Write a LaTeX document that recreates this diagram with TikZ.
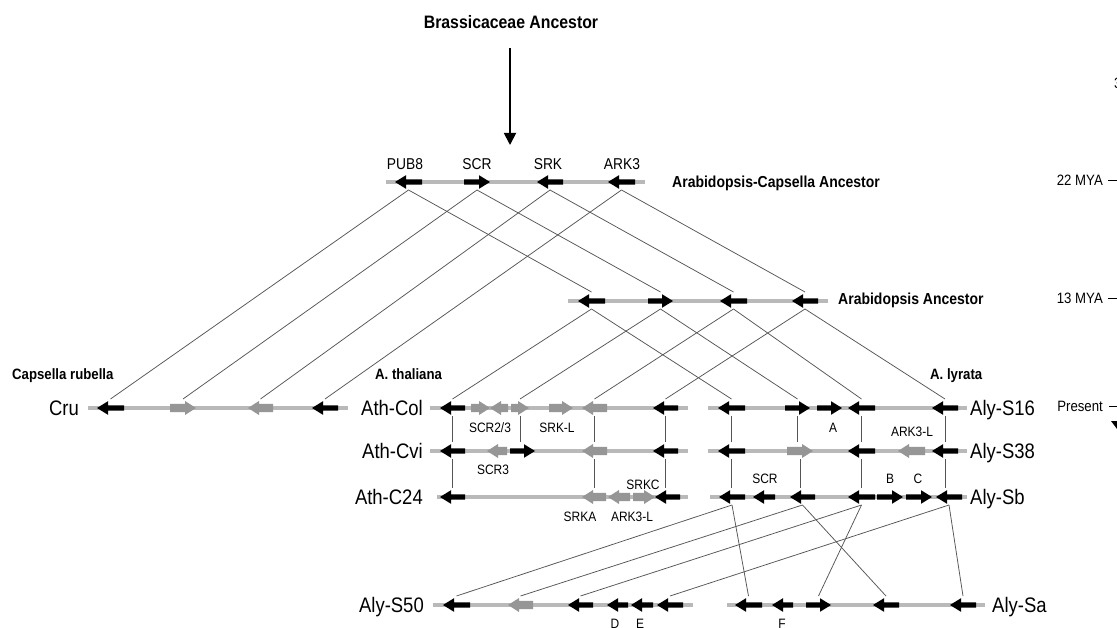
\documentclass[tikz,border=0pt]{standalone}
\usepackage{fontspec}
\setmainfont{Liberation Sans}[FakeStretch=0.88]
\usetikzlibrary{arrows.meta}
\definecolor{bbgray}{RGB}{185,185,185}
\definecolor{ggray}{RGB}{150,150,150}
\definecolor{cgray}{RGB}{85,85,85}
\newcommand\genearr[7]{%
  \pgfmathsetmacro\gah{#3>#2 ? #3-11 : #3+11}%
  \pgfmathsetmacro\gac{(#2+#3)/2}%
  \fill[#5] (#2,#4-#6) -- (\gah,#4-#6) -- (\gah,#4-#7) -- (#3,#4) -- (\gah,#4+#7) -- (\gah,#4+#6) -- (#2,#4+#6) -- cycle;%
  \coordinate (#1-t) at (\gac,#4-9);%
  \coordinate (#1-b) at (\gac,#4+8);%
}
\newcommand\bgene[4]{\genearr{#1}{#2}{#3}{#4}{black}{2.6}{6.8}}
\newcommand\ggene[4]{\genearr{#1}{#2}{#3}{#4}{ggray}{4.2}{7}}
\begin{document}
\begin{tikzpicture}[x=1pt,y=-1pt,
  backbone/.style={line width=4pt,color=bbgray},
  conn/.style={line width=0.75pt,color=cgray},
  rowlab/.style={font=\fontsize{21}{23}\selectfont,inner sep=0pt,yshift=-7.5pt},
  biglab/.style={font=\bfseries\fontsize{15.9}{18}\selectfont,inner sep=0pt,anchor=base,yshift=-5.7pt},
  spclab/.style={font=\bfseries\fontsize{15}{17}\selectfont,inner sep=0pt,anchor=base west,yshift=-5.4pt},
  genelab/.style={font=\fontsize{15.7}{18}\selectfont,inner sep=0pt,anchor=base,yshift=-5.6pt},
  smlab/.style={font=\fontsize{13.6}{15}\selectfont,inner sep=0pt,anchor=base,yshift=-4.9pt},
  timelab/.style={font=\fontsize{15}{17}\selectfont,inner sep=0pt,anchor=base east,yshift=-5.4pt},
  tick/.style={line width=0.8pt,color=black}]
\fill[white] (0,0) rectangle (1117,628);
\useasboundingbox (0,0) rectangle (1117,628);

% ---------- title and arrow
\node[biglab,font=\bfseries\fontsize{18}{20}\selectfont,yshift=-0.7pt] (brass) at (511,22) {Brassicaceae Ancestor};
\coordinate (arrS) at (510,48);
\coordinate (arrE) at (510,145);
\draw[line width=1.8pt,-{Triangle[length=12pt,width=12pt]}] (arrS) -- (arrE);

% ---------- time axis
\node[timelab] (t22) at (1103,180) {22 MYA};
\node[timelab] (t13) at (1103,298) {13 MYA};
\node[timelab] (tpr) at (1103,406) {Present};
\node[font=\fontsize{15}{17}\selectfont,inner sep=0pt,anchor=base west,yshift=-5.4pt] (t35) at (1114,83) {3};
\draw[tick] (1108,180) -- (1118,180);
\draw[tick] (1108,298) -- (1118,298);
\draw[tick] (1109,406) -- (1118,406);
\fill (1111,421) -- (1123,421) -- (1117,429) -- cycle;

% ---------- Arabidopsis-Capsella ancestor
\draw[backbone] (386,182) -- (645,182);
\bgene{p1}{422}{395}{182}
\bgene{p2}{464}{490}{182}
\bgene{p3}{563}{537}{182}
\bgene{p4}{635}{608}{182}
\node[genelab] (lpub) at (405,164) {PUB8};
\node[genelab] (lscr) at (477,164) {SCR};
\node[genelab] (lsrk) at (548,164) {SRK};
\node[genelab] (lark) at (622,164) {ARK3};
\node[biglab,anchor=base west] (lac) at (672,182) {Arabidopsis-Capsella Ancestor};

% ---------- Arabidopsis ancestor
\draw[backbone] (568,301) -- (828,301);
\bgene{a1}{605}{578}{301}
\bgene{a2}{648}{673}{301}
\bgene{a3}{747}{720}{301}
\bgene{a4}{818}{792}{301}
\node[biglab,anchor=base west] (laa) at (838,299) {Arabidopsis Ancestor};

% ---------- species labels
\node[spclab] (lcap) at (12,374) {Capsella rubella};
\node[spclab] (lath) at (375,374) {A. thaliana};
\node[spclab] (llyr) at (930,374) {A. lyrata};

% ---------- Cru
\node[rowlab,anchor=base east] (ncru) at (79,408) {Cru};
\draw[backbone] (88,408) -- (348,408);
\bgene{r1}{124}{97}{408}
\ggene{r2}{170}{196}{408}
\ggene{r3}{273}{248}{408}
\bgene{r4}{338}{312}{408}

% ---------- Ath-Col
\node[rowlab,anchor=base east] (ncol) at (423,408) {Ath-Col};
\draw[backbone] (430,408) -- (688,408);
\bgene{c1}{465}{440}{408}
\ggene{c2}{471}{490}{408}
\ggene{c3}{508}{490}{408}
\ggene{c4}{511}{529}{408}
\ggene{c5}{549}{573}{408}
\ggene{c6}{607}{582}{408}
\bgene{c7}{678}{653}{408}
\node[smlab] (lscr23) at (490,428) {SCR2/3};
\node[smlab] (lsrkl) at (557,428) {SRK-L};

% ---------- Ath-Cvi
\node[rowlab,anchor=base east] (ncvi) at (423,451) {Ath-Cvi};
\draw[backbone] (430,451) -- (688,451);
\bgene{v1}{465}{440}{451}
\ggene{v2}{507}{487}{451}
\bgene{v3}{510}{535}{451}
\ggene{v4}{607}{582}{451}
\bgene{v5}{678}{653}{451}
\node[smlab] (lscr3) at (493,470) {SCR3};

% ---------- Ath-C24
\node[rowlab,anchor=base east] (nc24) at (423,497) {Ath-C24};
\draw[backbone] (437,497) -- (688,497);
\bgene{w1}{465}{440}{497}
\ggene{w2}{606}{582}{497}
\ggene{w3}{630}{608}{497}
\ggene{w4}{633}{655}{497}
\bgene{w5}{680}{655}{497}
\node[smlab] (lsrkc) at (643,485) {SRKC};
\node[smlab] (lsrka) at (580,517) {SRKA};
\node[smlab] (lark3l) at (632,517) {ARK3-L};

% ---------- Aly-S16
\node[rowlab,anchor=base west] (ns16) at (970,408) {Aly-S16};
\draw[backbone] (708,408) -- (967,408);
\bgene{s1}{745}{718}{408}
\bgene{s2}{785}{810}{408}
\bgene{s3}{817}{842}{408}
\bgene{s4}{875}{848}{408}
\bgene{s5}{958}{932}{408}
\node[smlab] (la) at (833,428) {A};
\node[smlab] (lark3lb) at (912,432) {ARK3-L};

% ---------- Aly-S38
\node[rowlab,anchor=base west] (ns38) at (970,451) {Aly-S38};
\draw[backbone] (708,451) -- (967,451);
\bgene{u1}{745}{718}{451}
\ggene{u2}{787}{813}{451}
\bgene{u3}{875}{848}{451}
\ggene{u4}{925}{898}{451}
\bgene{u5}{958}{932}{451}

% ---------- Aly-Sb
\node[rowlab,anchor=base west] (nsb) at (970,497) {Aly-Sb};
\draw[backbone] (710,497) -- (967,497);
\bgene{b1}{745}{719}{497}
\bgene{b2}{775}{753}{497}
\bgene{b3}{815}{790}{497}
\bgene{b4}{875}{848}{497}
\bgene{b5}{877}{903}{497}
\bgene{b6}{906}{932}{497}
\bgene{b7}{962}{936}{497}
\node[smlab] (lscrb) at (765,479) {SCR};
\node[smlab] (lb) at (890,479) {B};
\node[smlab] (lc) at (918,479) {C};

% ---------- Aly-S50
\node[rowlab,anchor=base east] (ns50) at (424,605) {Aly-S50};
\draw[backbone] (433,605) -- (693,605);
\bgene{e1}{470}{443}{605}
\ggene{e2}{533}{508}{605}
\bgene{e3}{593}{568}{605}
\bgene{e4}{628}{607}{605}
\bgene{e5}{653}{631}{605}
\bgene{e6}{683}{657}{605}
\node[smlab] (ld) at (615,624) {D};
\node[smlab] (le) at (640,624) {E};

% ---------- Aly-Sa
\node[rowlab,anchor=base west] (nsa) at (992,605) {Aly-Sa};
\draw[backbone] (727,605) -- (985,605);
\bgene{f1}{762}{735}{605}
\bgene{f2}{793}{772}{605}
\bgene{f3}{806}{831}{605}
\bgene{f4}{899}{873}{605}
\bgene{f5}{976}{950}{605}
\node[smlab] (lf) at (782,624) {F};

% ---------- connectors
\foreach \u/\l in {p1/r1,p2/r2,p3/r3,p4/r4,p1/a1,p2/a2,p3/a3,p4/a4,
                   a1/c1,a2/c4,a3/c6,a4/c7,a1/s1,a2/s2,a3/s4,a4/s5,
                   b1/e1,b1/f1,b3/e2,b3/f4,b4/e3,b4/f3,b7/e6,b7/f5}
  \draw[conn] (\u-b) -- (\l-t);
\foreach \u/\l in {c1/v1,c4/v3,c6/v4,c7/v5,v1/w1,v4/w2,v5/w5,
                   s1/u1,s2/u2,s4/u3,s5/u5,u1/b1,u2/b3,u3/b4,u5/b7}
  \draw[conn] (\u-b) -- (\u-b |- \l-t);
\end{tikzpicture}
\end{document}
